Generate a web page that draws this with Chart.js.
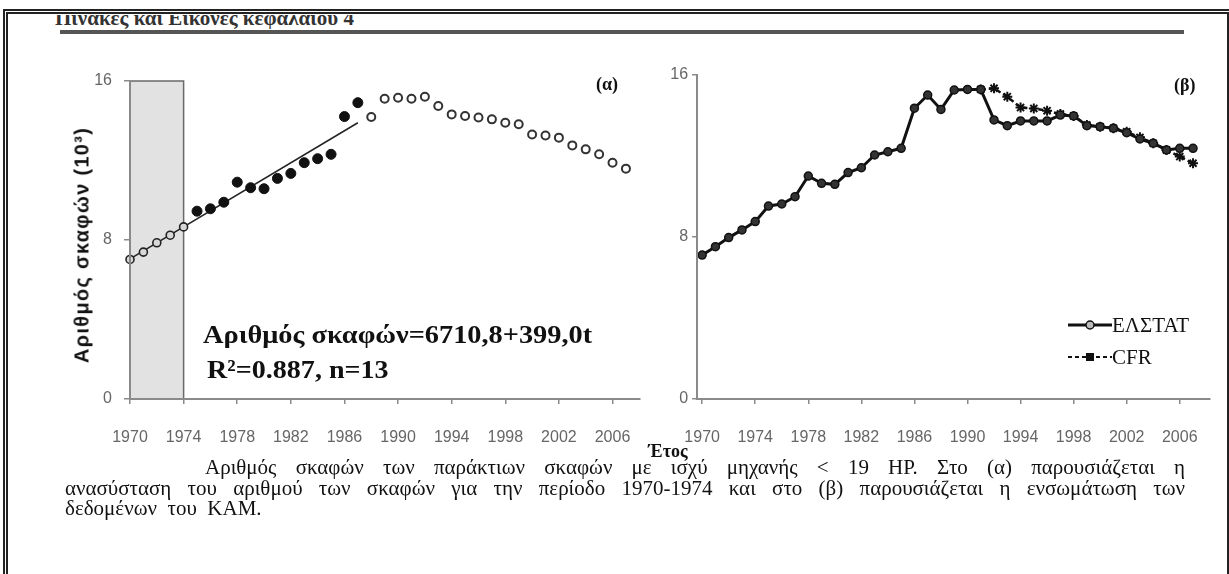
<!DOCTYPE html>
<html><head><meta charset="utf-8">
<script src="https://cdn.jsdelivr.net/npm/chart.js@4.4.1/dist/chart.umd.min.js"></script>
<style>
html,body{margin:0;padding:0;background:#fff;}
#page{position:relative;width:1229px;height:574px;overflow:hidden;background:#fff;}
.abs{position:absolute;white-space:nowrap;}
.serif{font-family:'Liberation Serif','Times New Roman',serif;color:#111;}
.cap{position:absolute;font-family:'Liberation Serif',serif;font-size:21px;line-height:20px;color:#111;text-align:justify;text-align-last:justify;white-space:nowrap;}
</style></head>
<body><div id="page">
  <div class="abs" style="left:3px;top:9px;width:1219px;height:600px;border-left:5px double #222;border-top:5px double #222;border-right:5px double #222;"></div>
  <div class="abs" style="left:55px;top:15px;width:420px;height:14px;overflow:hidden;">
    <div class="abs serif" style="left:0;top:-9px;font-size:21px;font-weight:bold;color:#333;">Πίνακες και Εικόνες κεφαλαίου 4</div>
  </div>
  <div class="abs" style="left:60px;top:30px;width:1124px;height:4px;background:#555;"></div>

  <canvas id="left" width="660" height="470" style="position:absolute;left:0;top:0;"></canvas>
  <canvas id="right" width="569" height="470" style="position:absolute;left:660px;top:0;"></canvas>

  <div class="abs" style="left:82px;top:245px;transform:translate(-50%,-50%) rotate(-90deg);font-family:'Liberation Sans',Arial,sans-serif;font-weight:bold;font-size:20px;letter-spacing:1.3px;color:#111;">Αριθμός σκαφών (10³)</div>
  <div class="abs serif" style="left:596px;top:74px;font-size:18px;font-weight:bold;line-height:20px;">(α)</div>
  <div class="abs serif" style="left:1174px;top:75px;font-size:18px;font-weight:bold;line-height:20px;">(β)</div>
  <div class="abs serif" style="left:203px;top:322px;font-size:26px;font-weight:bold;line-height:26px;transform:scaleX(1.09);transform-origin:0 0;">Αριθμός σκαφών=6710,8+399,0t</div>
  <div class="abs serif" style="left:207px;top:357px;font-size:26px;font-weight:bold;line-height:26px;transform:scaleX(1.08);transform-origin:0 0;">R²=0.887, n=13</div>

  <svg class="abs" style="left:1068px;top:318px;" width="44" height="14"><line x1="0" y1="7" x2="44" y2="7" stroke="#111" stroke-width="3"/><circle cx="22" cy="7" r="4" fill="#bbb" stroke="#111" stroke-width="1.5"/></svg>
  <div class="abs serif" style="left:1112px;top:313px;font-size:21px;line-height:24px;">ΕΛΣΤΑΤ</div>
  <svg class="abs" style="left:1068px;top:350px;" width="44" height="14"><line x1="0" y1="7" x2="44" y2="7" stroke="#111" stroke-width="2" stroke-dasharray="4 3"/><rect x="18" y="3" width="8" height="8" fill="#111"/></svg>
  <div class="abs serif" style="left:1112px;top:345px;font-size:21px;line-height:24px;">CFR</div>

  <div class="abs serif" style="left:668px;top:442px;transform:translateX(-50%);font-size:18px;font-weight:bold;line-height:18px;">Έτος</div>
  <div class="cap" style="left:205px;top:457px;width:980px;">Αριθμός σκαφών των παράκτιων σκαφών με ισχύ μηχανής &lt; 19 HP. Στο (α) παρουσιάζεται η</div>
  <div class="cap" style="left:65px;top:478px;width:1120px;">ανασύσταση του αριθμού των σκαφών για την περίοδο 1970-1974 και στο (β) παρουσιάζεται η ενσωμάτωση των</div>
  <div class="cap" style="left:65px;top:498px;text-align:left;text-align-last:left;">δεδομένων&nbsp; του&nbsp; ΚΑΜ.</div>
</div>
<script>
// ---- data ----
const xTickLabels = ['1970','1974','1978','1982','1986','1990','1994','1998','2002','2006'];
const yTickLabels = [0, 8, 16];

// panel (α)
const reconYears  = [1970, 1971, 1972, 1973, 1974];
const reconValues = [7.02, 7.39, 7.86, 8.24, 8.66];
const obsYears  = [1975, 1976, 1977, 1978, 1979, 1980, 1981, 1982, 1983, 1984, 1985, 1986, 1987];
const obsValues = [9.45, 9.57, 9.90, 10.91, 10.63, 10.58, 11.10, 11.35, 11.89, 12.09, 12.31, 14.21, 14.91];
const laterYears  = [1988, 1989, 1990, 1991, 1992, 1993, 1994, 1995, 1996, 1997, 1998, 1999, 2000, 2001, 2002, 2003, 2004, 2005, 2006, 2007];
const laterValues = [14.19, 15.11, 15.16, 15.11, 15.21, 14.74, 14.32, 14.24, 14.16, 14.07, 13.90, 13.82, 13.31, 13.26, 13.15, 12.76, 12.56, 12.31, 11.89, 11.59];
const fitYears  = [1970, 1987];
const fitValues = [7.05, 13.90];
const shadeYears = [1970, 1974];

// panel (β)
const elstatYears  = [1970,1971,1972,1973,1974,1975,1976,1977,1978,1979,1980,1981,1982,1983,1984,1985,1986,1987,1988,1989,1990,1991,1992,1993,1994,1995,1996,1997,1998,1999,2000,2001,2002,2003,2004,2005,2006,2007];
const elstatValues = [7.11,7.52,7.97,8.35,8.76,9.53,9.63,9.99,11.01,10.65,10.60,11.18,11.42,12.05,12.21,12.38,14.36,15.01,14.30,15.26,15.29,15.29,13.78,13.50,13.73,13.73,13.73,14.02,13.98,13.50,13.45,13.37,13.15,12.84,12.63,12.30,12.38,12.38];
const cfrYears  = [1991,1992,1993,1994,1995,1996,1997,1998,1999,2000,2001,2002,2003,2004,2005,2006,2007];
const cfrValues = [15.29,15.34,14.93,14.39,14.35,14.24,14.07,13.98,13.53,13.45,13.37,13.20,12.92,12.63,12.30,11.97,11.64];

const pts = (xs, ys) => xs.map((x, i) => ({x, y: ys[i]}));

const AXIS = '#8a8a8a';
const TICKFONT = {family: "'Liberation Sans', Arial, sans-serif", size: 16};

function xScale(min, max) {
  return {
    type: 'linear', min, max,
    afterBuildTicks: s => { s.ticks = xTickLabels.map(v => ({value: +v})); },
    afterFit: s => { s.height = 71; },
    ticks: {color: '#666', font: TICKFONT, padding: 24, maxRotation: 0, autoSkip: false,
            callback: v => String(v)},
    grid: {drawOnChartArea: false, drawTicks: true, tickLength: 5, color: AXIS, lineWidth: 1.5},
    border: {color: AXIS, width: 2, z: 1}
  };
}
function yScale(width, pad, tl) {
  return {
    type: 'linear', min: 0, max: 16,
    afterBuildTicks: s => { s.ticks = yTickLabels.map(v => ({value: v})); },
    afterFit: s => { s.width = width; },
    ticks: {color: '#666', font: TICKFONT, padding: pad},
    grid: {drawOnChartArea: false, drawTicks: true, tickLength: tl, color: AXIS, lineWidth: 1.5},
    border: {color: AXIS, width: 2, z: 1}
  };
}

const shadePlugin = {
  id: 'shade',
  beforeDatasetsDraw(chart) {
    const {ctx, scales: {x, y}} = chart;
    const x0 = x.getPixelForValue(shadeYears[0]), x1 = x.getPixelForValue(shadeYears[1]);
    const y0 = y.getPixelForValue(16), y1 = y.getPixelForValue(0);
    ctx.save();
    ctx.fillStyle = '#e2e2e2';
    ctx.fillRect(x0, y0, x1 - x0, y1 - y0);
    ctx.strokeStyle = '#6a6a6a';
    ctx.lineWidth = 1.5;
    ctx.strokeRect(x0, y0, x1 - x0, y1 - y0);
    ctx.restore();
  }
};

const common = {
  responsive: false, animation: false,
  plugins: {legend: {display: false}, tooltip: {enabled: false}},
};

new Chart(document.getElementById('left'), {
  type: 'scatter',
  data: {datasets: [
    {data: pts(obsYears, obsValues), pointRadius: 5, pointBackgroundColor: '#111', pointBorderColor: '#111', pointBorderWidth: 1},
    {data: pts(reconYears, reconValues), pointRadius: 4, pointBackgroundColor: '#d8d8d8', pointBorderColor: '#222', pointBorderWidth: 1.6},
    {data: pts(laterYears, laterValues), pointRadius: 4, pointBackgroundColor: '#fff', pointBorderColor: '#333', pointBorderWidth: 2},
    {data: pts(fitYears, fitValues), showLine: true, pointRadius: 0, borderColor: '#222', borderWidth: 1.5}
  ]},
  options: Object.assign({}, common, {
    layout: {padding: {left: 21, right: 20, top: 81, bottom: 0}},
    clip: false,
    scales: {x: xScale(1970, 2008.05), y: yScale(109, 12, 6)}
  }),
  plugins: [shadePlugin]
});

new Chart(document.getElementById('right'), {
  type: 'line',
  data: {datasets: [
    {data: pts(elstatYears, elstatValues), borderColor: '#111', borderWidth: 3, pointRadius: 4,
     pointBackgroundColor: '#333', pointBorderColor: '#111', pointBorderWidth: 1.5, tension: 0},
    {data: pts(cfrYears, cfrValues), borderColor: '#111', borderWidth: 2.5, borderDash: [5, 3], pointStyle: 'star',
     pointRadius: 5, pointBorderColor: '#111', pointBorderWidth: 2, tension: 0}
  ]},
  options: Object.assign({}, common, {
    layout: {padding: {left: 0, right: 19, top: 75, bottom: 0}},
    clip: false,
    scales: {x: xScale(1969.62, 2008.28), y: yScale(37, 4, 5)}
  })
});
</script>
</body></html>
